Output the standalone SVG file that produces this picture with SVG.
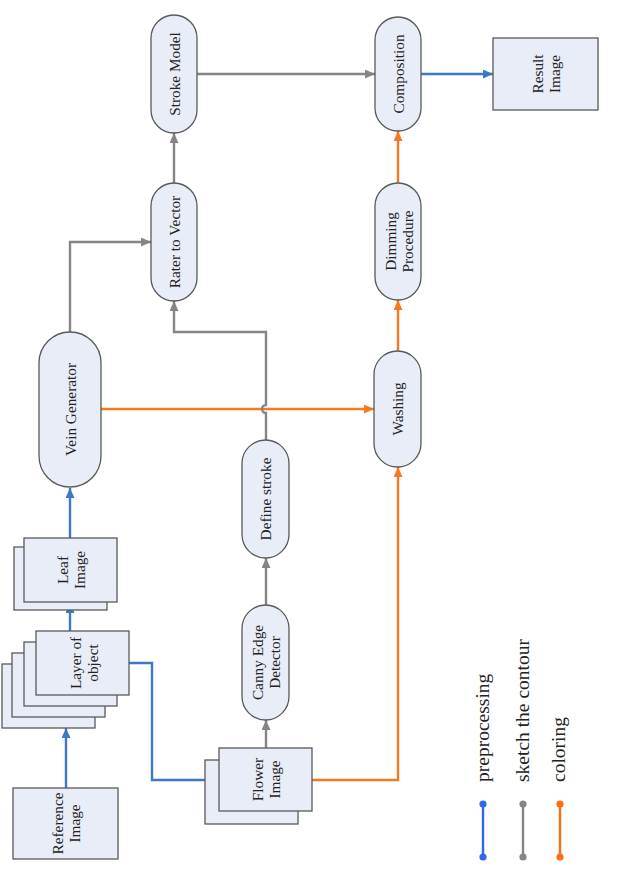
<svg xmlns="http://www.w3.org/2000/svg" width="619" height="869" viewBox="0 0 619 869">
<style>
.n{fill:#e9edf8;stroke:#595959;stroke-width:1.3}
.t{font-family:"Liberation Serif","Times New Roman",serif;font-size:15.3px;fill:#222;text-anchor:middle;dominant-baseline:central}
.lg{font-family:"Liberation Serif","Times New Roman",serif;font-size:19.5px;fill:#222}
.c{fill:none;stroke-width:2.4}
.b{stroke:#3f76c6}
.g{stroke:#858585}
.o{stroke:#f47a1f}
</style>
<defs>
<marker id="ab" markerUnits="userSpaceOnUse" markerWidth="10" markerHeight="9" refX="10" refY="4.5" orient="auto"><path d="M0,0 L10,4.5 L0,9 z" fill="#3f76c6"/></marker>
<marker id="ag" markerUnits="userSpaceOnUse" markerWidth="10" markerHeight="9" refX="10" refY="4.5" orient="auto"><path d="M0,0 L10,4.5 L0,9 z" fill="#858585"/></marker>
<marker id="ao" markerUnits="userSpaceOnUse" markerWidth="10" markerHeight="9" refX="10" refY="4.5" orient="auto"><path d="M0,0 L10,4.5 L0,9 z" fill="#f47a1f"/></marker>
</defs>
<rect width="619" height="869" fill="#ffffff"/>
<g id="connectors">
<path class="c b" d="M66,788 V728" marker-end="url(#ab)"/>
<path class="c b" d="M70,631 V603" marker-end="url(#ab)"/>
<path class="c b" d="M70,538 V488" marker-end="url(#ab)"/>
<path class="c b" d="M129,663 H152 V780 H219" marker-end="url(#ab)"/>
<path class="c g" d="M70,332 V242 H151" marker-end="url(#ag)"/>
<path class="c o" d="M101,409 H374" marker-end="url(#ao)"/>
<path class="c g" d="M266,748 V720" marker-end="url(#ag)"/>
<path class="c g" d="M266,605 V558" marker-end="url(#ag)"/>
<path class="c g" d="M266,440 V413 A4,4 0 0 1 266,405 V332 H174 V301" marker-end="url(#ag)"/>
<path class="c g" d="M174,183 V133" marker-end="url(#ag)"/>
<path class="c g" d="M197,74 H375" marker-end="url(#ag)"/>
<path class="c o" d="M312,780 H398 V467" marker-end="url(#ao)"/>
<path class="c o" d="M398,351 V300" marker-end="url(#ao)"/>
<path class="c o" d="M398,183 V131" marker-end="url(#ao)"/>
<path class="c b" d="M421,74 H493" marker-end="url(#ab)"/>
</g>
<g id="stroke-model"><rect class="n" x="151" y="15" width="46" height="118" rx="23"/><text class="t" transform="translate(174,74) rotate(-90)">Stroke Model</text></g>
<g id="rater-to-vector"><rect class="n" x="151" y="183" width="46" height="118" rx="23"/><text class="t" transform="translate(174,242) rotate(-90)">Rater to Vector</text></g>
<g id="composition"><rect class="n" x="375" y="17" width="46" height="114" rx="23"/><text class="t" transform="translate(398,74) rotate(-90)">Composition</text></g>
<g id="dimming"><rect class="n" x="375" y="183" width="46" height="117" rx="23"/><text class="t" transform="translate(398,241.5) rotate(-90)"><tspan x="0" y="-8.5">Dimming</tspan><tspan x="0" y="8.5">Procedure</tspan></text></g>
<g id="result-image"><rect class="n" x="493" y="38" width="105" height="72"/><text class="t" transform="translate(545.5,74) rotate(-90)"><tspan x="0" y="-8.5">Result</tspan><tspan x="0" y="8.5">Image</tspan></text></g>
<g id="vein-generator"><rect class="n" x="39" y="332" width="62" height="155" rx="31"/><text class="t" transform="translate(70,409.5) rotate(-90)">Vein Generator</text></g>
<g id="washing"><rect class="n" x="374" y="351" width="47" height="116" rx="23.5"/><text class="t" transform="translate(397.5,409) rotate(-90)">Washing</text></g>
<g id="define-stroke"><rect class="n" x="242" y="440" width="47" height="118" rx="23.5"/><text class="t" transform="translate(265.5,499) rotate(-90)">Define stroke</text></g>
<g id="canny"><rect class="n" x="242" y="605" width="47" height="115" rx="23.5"/><text class="t" transform="translate(265.5,662.5) rotate(-90)"><tspan x="0" y="-8.5">Canny Edge</tspan><tspan x="0" y="8.5">Detector</tspan></text></g>
<g id="flower-image"><rect class="n" x="205" y="760" width="93" height="64"/><rect class="n" x="219" y="748" width="93" height="63"/><text class="t" transform="translate(265.5,779.5) rotate(-90)"><tspan x="0" y="-8.5">Flower</tspan><tspan x="0" y="8.5">Image</tspan></text></g>
<g id="reference-image"><rect class="n" x="13" y="788" width="105" height="71"/><text class="t" transform="translate(65.5,823.5) rotate(-90)"><tspan x="0" y="-8.5">Reference</tspan><tspan x="0" y="8.5">Image</tspan></text></g>
<g id="layer-of-object"><rect class="n" x="2" y="664" width="93" height="64"/><rect class="n" x="12" y="653" width="93" height="64"/><rect class="n" x="24" y="642" width="93" height="64"/><rect class="n" x="36" y="631" width="93" height="64"/><text class="t" transform="translate(83,663) rotate(-90)"><tspan x="0" y="-8.5">Layer of</tspan><tspan x="0" y="8.5">object</tspan></text></g>
<g id="leaf-image"><rect class="n" x="14" y="547" width="93" height="63"/><rect class="n" x="24" y="538" width="93" height="64"/><text class="t" transform="translate(70.5,570) rotate(-90)"><tspan x="0" y="-8.5">Leaf</tspan><tspan x="0" y="8.5">Image</tspan></text></g>
<g id="legend">
<path d="M483,804 V857" stroke="#3366ee" stroke-width="2.4"/><circle cx="483" cy="804" r="3.6" fill="#3366ee"/><circle cx="483" cy="857" r="3.6" fill="#3366ee"/>
<path d="M523,804 V857" stroke="#858585" stroke-width="2.4"/><circle cx="523" cy="804" r="3.6" fill="#858585"/><circle cx="523" cy="857" r="3.6" fill="#858585"/>
<path d="M560,804 V857" stroke="#ff6a13" stroke-width="2.4"/><circle cx="560" cy="804" r="3.6" fill="#ff6a13"/><circle cx="560" cy="857" r="3.6" fill="#ff6a13"/>
<text class="lg" transform="translate(489,782) rotate(-90)">preprocessing</text>
<text class="lg" transform="translate(529,782) rotate(-90)">sketch the contour</text>
<text class="lg" transform="translate(565,782) rotate(-90)">coloring</text>
</g>
</svg>
